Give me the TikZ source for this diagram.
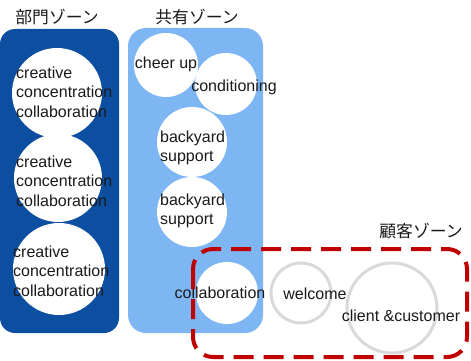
\documentclass[tikz,border=0pt]{standalone}
\usepackage{fontspec}
\setmainfont{Liberation Sans}
\newfontfamily\jpfont{Noto Sans CJK JP}
\definecolor{darkzone}{HTML}{0C4EA0}
\definecolor{lightzone}{HTML}{7EB6F4}
\definecolor{custred}{HTML}{C00000}
\definecolor{ringgray}{HTML}{D9D9D9}
\definecolor{txt}{HTML}{1A1A1A}
\tikzset{
  zonetitle/.style={font=\jpfont\fontsize{16.8}{18}\selectfont, text=txt, inner sep=0pt},
  lbl/.style={font=\fontsize{16}{19.5}\selectfont, text=txt, inner sep=0pt, align=left},
  wcirc/.style={circle, fill=white, inner sep=0pt, minimum size=#1},
  gcirc/.style={circle, draw=ringgray, line width=3pt, fill=white, inner sep=0pt, minimum size=#1},
}
\begin{document}
\begin{tikzpicture}[x=1pt,y=-1pt]
\useasboundingbox (0,0) rectangle (471,361);
% zones
\fill[darkzone, rounded corners=15pt] (0,29) rectangle (119,333);
\fill[lightzone, rounded corners=18pt] (128,28) rectangle (263,333);
\node[zonetitle] (t1) at (57,17) {部門ゾーン};
\node[zonetitle] (t2) at (197,17) {共有ゾーン};
\node[zonetitle] (t3) at (421,231) {顧客ゾーン};
% left circles
\node[wcirc=90pt] (d1) at (57,93) {};
\node[wcirc=88pt] (d2) at (58,178) {};
\node[wcirc=92pt] (d3) at (59,269) {};
\node[lbl, anchor=west] (d1t) at (16,92) {creative\\concentration\\collaboration};
\node[lbl, anchor=west] (d2t) at (16,181) {creative\\concentration\\collaboration};
\node[lbl, anchor=west] (d3t) at (13,271) {creative\\concentration\\collaboration};
% shared circles
\node[wcirc=64pt] (s1) at (166,65) {};
\node[wcirc=62pt] (s2) at (226,84) {};
\node[wcirc=70pt] (s3) at (192,142) {};
\node[wcirc=70pt] (s4) at (192,212) {};
\node[wcirc=62pt] (s5) at (227,293) {};
\node[lbl] (s1t) at (166,64) {cheer up};
\node[lbl] (s2t) at (234,87) {conditioning};
\node[lbl, anchor=west] (s3t) at (160,148) {backyard\\support};
\node[lbl, anchor=west] (s4t) at (160,211) {backyard\\support};
\node[lbl] (s5t) at (220,293) {collaboration};
% customer zone
\node[gcirc=60pt] (c1) at (301,293) {};
\node[gcirc=90pt] (c2) at (392,308) {};
\node[lbl] (c1t) at (315,294) {welcome};
\node[lbl] (c2t) at (401,316) {client \&customer};
\draw[custred, line width=4pt, dash pattern=on 20pt off 10pt, rounded corners=20pt] (193,249) rectangle (467,357);
\end{tikzpicture}
\end{document}
